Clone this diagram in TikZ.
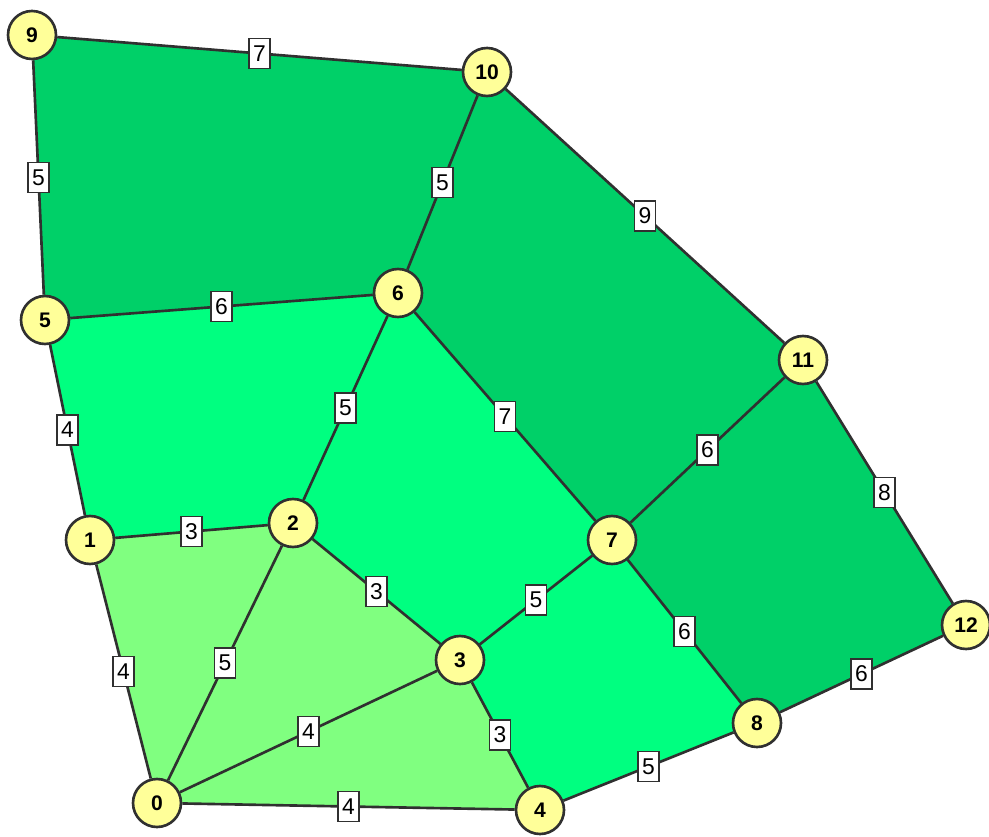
\documentclass[tikz,border=0pt]{standalone}
\usepackage{fontspec}
\setmainfont{Liberation Sans}
\usetikzlibrary{backgrounds}
\definecolor{zoneA}{HTML}{80FF80}
\definecolor{zoneB}{HTML}{00FF80}
\definecolor{zoneC}{HTML}{00D068}
\definecolor{vtxfill}{HTML}{FFFF99}
\definecolor{edgecol}{HTML}{303030}
\tikzset{
  vertex/.style={draw=edgecol, circle, line width=1.5pt, fill=vtxfill, minimum size=0.96cm, inner sep=0pt, font=\bfseries\fontsize{12}{12}\selectfont},
  link/.style={draw=edgecol, line width=1.5pt},
  weight/.style={draw=edgecol, fill=white, line width=1.1pt, inner sep=1pt, minimum width=0.42cm, minimum height=0.6cm, font=\fontsize{13}{13}\selectfont, pos=0.5}
}
\begin{document}
\begin{tikzpicture}[x=0.02cm, y=-0.02cm]
  \useasboundingbox (0,0) rectangle (989,837);
  \node[vertex] (n0) at (157,803) {0};
  \node[vertex] (n1) at (90,540) {1};
  \node[vertex] (n2) at (293,523) {2};
  \node[vertex] (n3) at (460,660) {3};
  \node[vertex] (n4) at (540,810) {4};
  \node[vertex] (n5) at (45,320) {5};
  \node[vertex] (n6) at (398,293) {6};
  \node[vertex] (n7) at (612,540) {7};
  \node[vertex] (n8) at (757,723) {8};
  \node[vertex] (n9) at (32,35) {9};
  \node[vertex] (n10) at (487,72) {10};
  \node[vertex] (n11) at (803,360) {11};
  \node[vertex] (n12) at (966,625) {12};

  % faces
  \begin{scope}[on background layer]
    \fill[zoneA] (n0.center) -- (n1.center) -- (n2.center) -- (n3.center) -- (n4.center) -- cycle;
    \fill[zoneB] (n1.center) -- (n5.center) -- (n6.center) -- (n7.center) -- (n8.center) -- (n4.center) -- (n3.center) -- (n2.center) -- cycle;
    \fill[zoneC] (n5.center) -- (n9.center) -- (n10.center) -- (n11.center) -- (n12.center) -- (n8.center) -- (n7.center) -- (n6.center) -- cycle;

    % edges
    \draw[link] (n9) -- node[weight]{7} (n10);
    \draw[link] (n9) -- node[weight]{5} (n5);
    \draw[link] (n10) -- node[weight]{5} (n6);
    \draw[link] (n10) -- node[weight]{9} (n11);
    \draw[link] (n5) -- node[weight]{6} (n6);
    \draw[link] (n5) -- node[weight]{4} (n1);
    \draw[link] (n6) -- node[weight]{5} (n2);
    \draw[link] (n6) -- node[weight]{7} (n7);
    \draw[link] (n11) -- node[weight]{6} (n7);
    \draw[link] (n11) -- node[weight]{8} (n12);
    \draw[link] (n1) -- node[weight]{3} (n2);
    \draw[link] (n2) -- node[weight]{3} (n3);
    \draw[link] (n3) -- node[weight]{5} (n7);
    \draw[link] (n7) -- node[weight]{6} (n8);
    \draw[link] (n8) -- node[weight]{6} (n12);
    \draw[link] (n1) -- node[weight]{4} (n0);
    \draw[link] (n2) -- node[weight]{5} (n0);
    \draw[link] (n3) -- node[weight]{4} (n0);
    \draw[link] (n3) -- node[weight]{3} (n4);
    \draw[link] (n0) -- node[weight]{4} (n4);
    \draw[link] (n4) -- node[weight]{5} (n8);
  \end{scope}
\end{tikzpicture}
\end{document}
